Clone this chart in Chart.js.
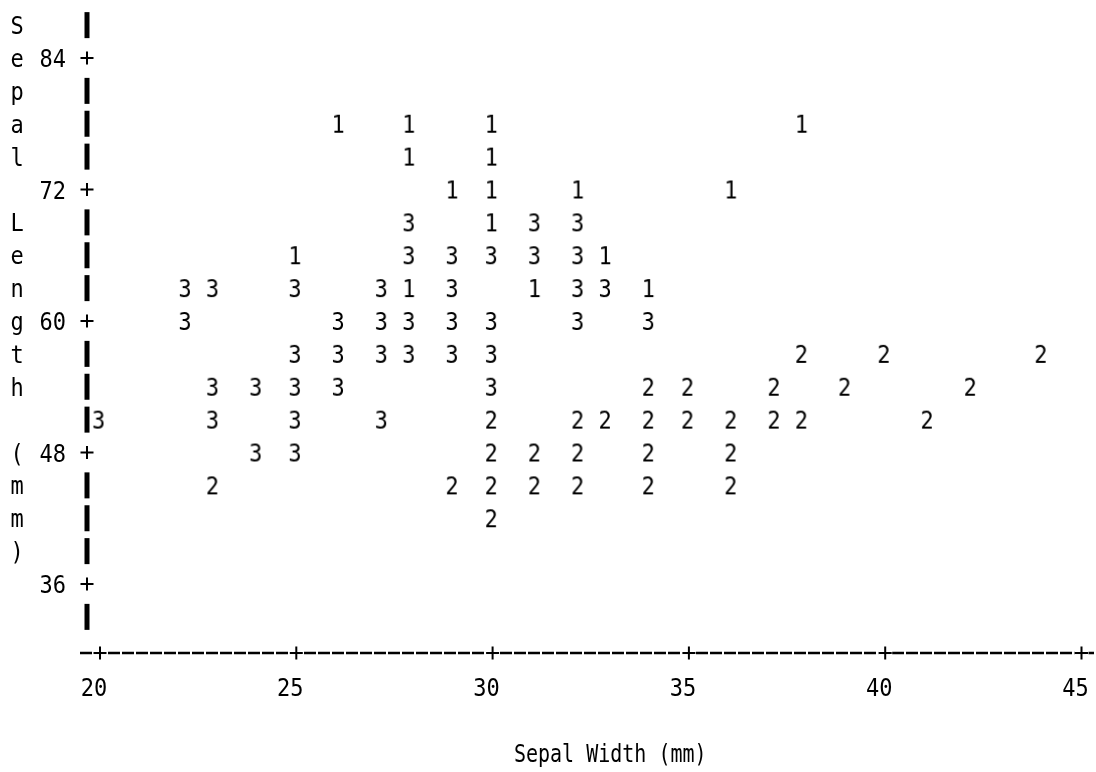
<!DOCTYPE html>
<html>
<head>
<meta charset="utf-8">
<script src="https://cdn.jsdelivr.net/npm/chart.js@4.4.1/dist/chart.umd.min.js"></script>
<style>
html,body{margin:0;padding:0;background:#fff;}
#wrap{width:1096px;height:772px;position:relative;}
</style>
</head>
<body>
<div id="wrap"><canvas id="plot"></canvas></div>
<script>
// ---------- data (sepal width mm, sepal length mm) ----------

const xTicks = [20, 25, 30, 35, 40, 45];
const yTicks = [84, 72, 60, 48, 36];

const xTitle = "Sepal Width (mm)";
const yTitle = "Sepal Length (mm)";

// symbol "1"
const oneX = [26.1, 27.9, 30, 37.9, 27.9, 30, 29, 30, 32.2, 36.1, 30, 25, 32.9, 27.9, 31.1, 34];
const oneY = [78, 78, 78, 78, 75, 75, 72, 72, 72, 72, 69, 66, 66, 63, 63, 63];

// symbol "2"
const twoX = [37.9, 40, 44,
              34, 35, 37.2, 39, 42.2,
              30, 32.2, 32.9, 34, 35, 36.1, 37.2, 37.9, 41.1,
              30, 31.1, 32.2, 34, 36.1,
              22.9, 29, 30, 31.1, 32.2, 34, 36.1,
              30];
const twoY = [57, 57, 57,
              54, 54, 54, 54, 54,
              51, 51, 51, 51, 51, 51, 51, 51, 51,
              48, 48, 48, 48, 48,
              45, 45, 45, 45, 45, 45, 45,
              42];

// symbol "3"
const threeX = [27.9, 31.1, 32.2,
                27.9, 29, 30, 31.1, 32.2,
                22.2, 22.9, 25, 27.2, 29, 32.2, 32.9,
                22.2, 26.1, 27.2, 27.9, 29, 30, 32.2, 34,
                25, 26.1, 27.2, 27.9, 29, 30,
                22.9, 24, 25, 26.1, 30,
                20, 22.9, 25, 27.2,
                24, 25];
const threeY = [69, 69, 69,
                66, 66, 66, 66, 66,
                63, 63, 63, 63, 63, 63, 63,
                60, 60, 60, 60, 60, 60, 60, 60,
                57, 57, 57, 57, 57, 57,
                54, 54, 54, 54, 54,
                51, 51, 51, 51,
                48, 48];

// ---------- text look ----------

const FONT_SIZE = 25;
const FONT = FONT_SIZE + 'px "DejaVu Sans Mono", "Liberation Mono", monospace';
const CAP = FONT_SIZE * 0.729;
const NARROW = 0.88;   // squeeze glyphs like the printer font

function text(ctx, s, x, y, align, sx){
    ctx.save();
    ctx.translate(x, y);
    ctx.scale(sx || NARROW, 1);
    ctx.textAlign = align;
    ctx.textBaseline = 'alphabetic';
    ctx.fillText(s, 0, CAP / 2);
    ctx.restore();
}

function glyph(ch){
    const c = document.createElement('canvas');
    c.width = 22;
    c.height = 30;
    const g = c.getContext('2d');
    g.font = FONT;
    g.fillStyle = '#000';
    text(g, ch, 11, 15, 'center');
    return c;
}

function pairs(xs, ys){
    return xs.map((x, i) => ({x: x, y: ys[i]}));
}

function plus(ctx, x, y){
    ctx.lineWidth = 2;
    ctx.beginPath();
    ctx.moveTo(x - 6.5, y);
    ctx.lineTo(x + 6.5, y);
    ctx.moveTo(x, y - 6.5);
    ctx.lineTo(x, y + 6.5);
    ctx.stroke();
}

// ---------- line-printer axes ----------

const printerAxes = {
    id: 'printerAxes',
    afterDraw(chart){
        const ctx = chart.ctx;
        const xs = chart.scales.x;
        const ys = chart.scales.y;
        const axisX = xs.getPixelForValue(xTicks[0]) - 11.5;

        ctx.save();
        ctx.fillStyle = '#000';
        ctx.strokeStyle = '#000';
        ctx.font = FONT;

        // vertical axis, one character row every 3 mm
        const top = yTicks[0] + 3;
        const bottom = yTicks[yTicks.length - 1] - 3;
        for(let v = top; v >= bottom; v -= 3){
            const py = ys.getPixelForValue(v);
            if(yTicks.includes(v)){
                plus(ctx, axisX, py);
                text(ctx, String(v), axisX - 21, py, 'right');
            }else{
                ctx.fillRect(axisX - 2.5, py - 13, 5, 26);
            }
        }

        // vertical title, one letter per row
        for(let i = 0; i < yTitle.length; i++){
            const ch = yTitle[i];
            if(ch === ' ') continue;
            text(ctx, ch, 17, ys.getPixelForValue(top - 3 * i), 'center');
        }

        // horizontal axis
        const lineY = ys.getPixelForValue(bottom) + 36;
        ctx.lineWidth = 2.5;
        ctx.setLineDash([12, 2]);
        ctx.beginPath();
        ctx.moveTo(axisX - 7, lineY);
        ctx.lineTo(chart.width - 2, lineY);
        ctx.stroke();
        ctx.setLineDash([]);

        xTicks.forEach(t => {
            const px = xs.getPixelForValue(t) + 1.5;
            ctx.fillStyle = '#fff';
            ctx.fillRect(px - 7, lineY - 2, 14, 4);
            ctx.fillStyle = '#000';
            plus(ctx, px, lineY);
            text(ctx, String(t), px - 6, lineY + 34, 'center');
        });

        // horizontal title
        text(ctx, xTitle, (xs.left + xs.right) / 2 + 21, lineY + 100, 'center', 0.8);

        ctx.restore();
    }
};

// ---------- chart ----------

const chart = new Chart(document.getElementById('plot'), {
    type: 'scatter',
    data: {
        datasets: [
            {label: '1', data: pairs(oneX, oneY), pointStyle: glyph('1'), clip: false},
            {label: '2', data: pairs(twoX, twoY), pointStyle: glyph('2'), clip: false},
            {label: '3', data: pairs(threeX, threeY), pointStyle: glyph('3'), clip: false}
        ]
    },
    options: {
        responsive: true,
        maintainAspectRatio: false,
        animation: false,
        events: [],
        elements: {point: {radius: 3}},
        layout: {padding: {left: 98.5, right: 16, top: 58, bottom: 188}},
        plugins: {
            legend: {display: false},
            tooltip: {enabled: false}
        },
        scales: {
            x: {type: 'linear', min: 20, max: 45, display: false},
            y: {type: 'linear', min: 36, max: 84, display: false}
        }
    },
    plugins: [printerAxes]
});
</script>
</body>
</html>
